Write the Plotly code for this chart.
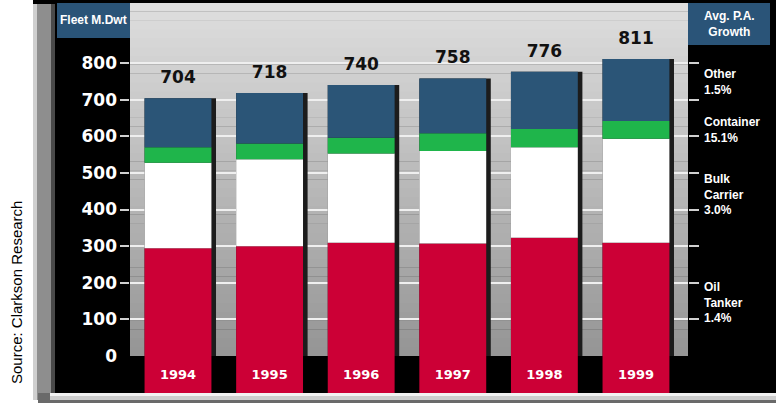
import plotly.graph_objects as go

# ---------------- data ----------------
YEARS = ["1994", "1995", "1996", "1997", "1998", "1999"]
OIL_TANKER = [294, 300, 309, 307, 323, 309]
BULK_CARRIER = [234, 237, 244, 253, 247, 284]
CONTAINER = [42, 43, 43, 48, 50, 49]
OTHER = [134, 138, 144, 150, 156, 169]
TOTALS = [704, 718, 740, 758, 776, 811]
Y_TICKS = [0, 100, 200, 300, 400, 500, 600, 700, 800]
SEGMENT_NAMES = ["Other", "Container", "Bulk<br>Carrier", "Oil<br>Tanker"]
GROWTH = ["1.5%", "15.1%", "3.0%", "1.4%"]

# ---------------- styling / layout ----------------
W, H = 776, 403
L, R, T, B = 130, 88, 3, 10
Y_RANGE = [-101, 964]
X_RANGE = [-0.524, 5.568]
BAR_W = 0.73
BAND = -101  # depth of the year label band below zero (decoration)
FONT_B = "DejaVu Sans"
FONT_N = "Liberation Sans"
COL_OIL, COL_BULK, COL_CONT, COL_OTHER = "#cc0036", "#ffffff", "#1fb54b", "#2b5577"
COL_BOX = "#2a5478"


def px(x):
    return (x - L) / (W - L - R)


def py(y):
    return (H - B - y) / (H - T - B)


fig = go.Figure()

# shadow strip behind bars (primary x axis, drawn first)
fig.add_trace(go.Bar(x=YEARS, y=TOTALS, width=0.78, offset=-BAR_W / 2,
                     marker=dict(color="#1c1c1c", line=dict(width=0)),
                     xaxis="x", yaxis="y", hoverinfo="skip", showlegend=False))

# main stacked bars (overlay x axis)
for name, vals, col in [("Oil Tanker", OIL_TANKER, COL_OIL),
                        ("Bulk Carrier", BULK_CARRIER, COL_BULK),
                        ("Container", CONTAINER, COL_CONT),
                        ("Other", OTHER, COL_OTHER)]:
    fig.add_trace(go.Bar(x=YEARS, y=vals, name=name, width=BAR_W,
                         marker=dict(color=col, line=dict(width=0)),
                         xaxis="x2", yaxis="y", showlegend=False))

# red year band below zero carrying year labels
fig.add_trace(go.Bar(x=YEARS, y=[BAND] * len(YEARS), width=BAR_W,
                     marker=dict(color=COL_OIL, line=dict(width=0)),
                     text=YEARS, textposition="inside", insidetextanchor="middle",
                     textangle=0, constraintext="none",
                     textfont=dict(family=FONT_B, size=13, color="white", weight="bold"),
                     xaxis="x2", yaxis="y", hoverinfo="skip", showlegend=False))

# totals above bars
fig.add_trace(go.Scatter(x=YEARS, y=TOTALS, mode="markers+text", text=[str(t) for t in TOTALS],
                         textposition="top center", marker=dict(size=16, opacity=0),
                         textfont=dict(family=FONT_B, size=17, color="#111111", weight="bold"),
                         xaxis="x2", yaxis="y", hoverinfo="skip", showlegend=False))

# invisible trace to anchor right-hand tick axis
fig.add_trace(go.Scatter(x=YEARS, y=TOTALS, mode="markers", marker=dict(opacity=0),
                         xaxis="x", yaxis="y2", hoverinfo="skip", showlegend=False))

shapes = []
# black frame background
shapes.append(dict(type="rect", xref="paper", yref="paper", x0=px(33), x1=px(776),
                   y0=py(393), y1=py(0), fillcolor="black", line=dict(width=0), layer="below"))
# left bevel
shapes.append(dict(type="rect", xref="paper", yref="paper", x0=px(33), x1=px(55),
                   y0=py(400), y1=py(4), fillcolor="#8e8e8e", line=dict(width=0), layer="below"))
shapes.append(dict(type="rect", xref="paper", yref="paper", x0=px(33), x1=px(37),
                   y0=py(400), y1=py(4), fillcolor="#cfcfcf", line=dict(width=0), layer="below"))
shapes.append(dict(type="rect", xref="paper", yref="paper", x0=px(51), x1=px(55),
                   y0=py(393), y1=py(4), fillcolor="#4a4a4a", line=dict(width=0), layer="below"))
# bottom bevel
shapes.append(dict(type="rect", xref="paper", yref="paper", x0=px(38), x1=px(776),
                   y0=py(403), y1=py(393), fillcolor="#6a6a6a", line=dict(width=0), layer="below"))
shapes.append(dict(type="rect", xref="paper", yref="paper", x0=px(50), x1=px(776),
                   y0=py(400), y1=py(393), fillcolor="#cdcdcd", line=dict(width=0), layer="below"))
shapes.append(dict(type="rect", xref="paper", yref="paper", x0=px(50), x1=px(776),
                   y0=py(396), y1=py(393), fillcolor="#f2f2f2", line=dict(width=0), layer="below"))
# gray plot area with vertical gradient
N = 40
top_c, bot_c = (222, 222, 222), (150, 150, 150)
for i in range(N):
    f = i / (N - 1)
    c = tuple(int(bot_c[k] + (top_c[k] - bot_c[k]) * f) for k in range(3))
    shapes.append(dict(type="rect", xref="paper", yref="y", x0=0, x1=1,
                       y0=Y_RANGE[1] * i / N, y1=Y_RANGE[1] * (i + 1) / N + 1,
                       fillcolor="rgb(%d,%d,%d)" % c, line=dict(width=0), layer="below"))
# title boxes
shapes.append(dict(type="rect", xref="paper", yref="paper", x0=px(57), x1=px(130),
                   y0=py(38), y1=py(3), fillcolor=COL_BOX, line=dict(width=0), layer="below"))
shapes.append(dict(type="rect", xref="paper", yref="paper", x0=px(688), x1=px(770),
                   y0=py(45), y1=py(3), fillcolor=COL_BOX, line=dict(width=0), layer="below"))

annotations = [
    dict(text="Fleet M.Dwt", xref="paper", yref="paper", x=px(93.5), y=py(20.5),
         showarrow=False, xanchor="center", yanchor="middle",
         font=dict(family="Liberation Sans Narrow, Liberation Sans", size=12, color="white", weight="bold")),
    dict(text="Avg. P.A.<br>Growth", xref="paper", yref="paper", x=px(729), y=py(24),
         showarrow=False, xanchor="center", yanchor="middle",
         font=dict(family=FONT_N, size=12, color="white", weight="bold")),
    dict(text="Source: Clarkson Research", xref="paper", yref="paper", x=px(16), y=py(292),
         textangle=-90, showarrow=False, xanchor="center", yanchor="middle",
         font=dict(family=FONT_N, size=15, color="black")),
]
LABEL_Y = [749, 618, 441, 147]
for nm, g, yv in zip(SEGMENT_NAMES, GROWTH, LABEL_Y):
    annotations.append(dict(text=nm + "<br>" + g, xref="paper", yref="y", x=px(702), y=yv,
                            showarrow=False, xanchor="left", yanchor="middle", align="left",
                            font=dict(family=FONT_N, size=12, color="white", weight="bold")))

fig.update_layout(
    width=W, height=H,
    margin=dict(l=L, r=R, t=T, b=B, pad=0),
    paper_bgcolor="white", plot_bgcolor="black",
    barmode="relative",
    showlegend=False,
    shapes=shapes,
    annotations=annotations,
    xaxis=dict(type="category", range=X_RANGE, showticklabels=False, showgrid=False,
               zeroline=False, ticks="", fixedrange=True),
    xaxis2=dict(type="category", range=X_RANGE, overlaying="x", anchor="y",
                showticklabels=False, showgrid=False, zeroline=False, ticks=""),
    yaxis=dict(range=Y_RANGE, tickvals=Y_TICKS, ticktext=[str(v) for v in Y_TICKS],
               ticks="", showgrid=False, zeroline=False, ticklabelstandoff=12,
               tickfont=dict(family=FONT_B, size=17, color="white", weight="bold"),
               minor=dict(tickvals=Y_TICKS[1:], ticks="outside", ticklen=9,
                          tickcolor="#d0d0d0", tickwidth=2, showgrid=True,
                          gridcolor="#efefef", gridwidth=2)),
    yaxis2=dict(range=Y_RANGE, overlaying="y", side="right", anchor="x",
                tickvals=Y_TICKS[1:], ticks="outside", ticklen=10, tickwidth=2,
                tickcolor="#d0d0d0", showticklabels=False, showgrid=False, zeroline=False),
)

fig.write_html("out.html", config={"displayModeBar": False},
               post_script="document.body.style.margin='0';document.body.style.padding='0';"
                           "document.body.style.overflow='hidden';")
